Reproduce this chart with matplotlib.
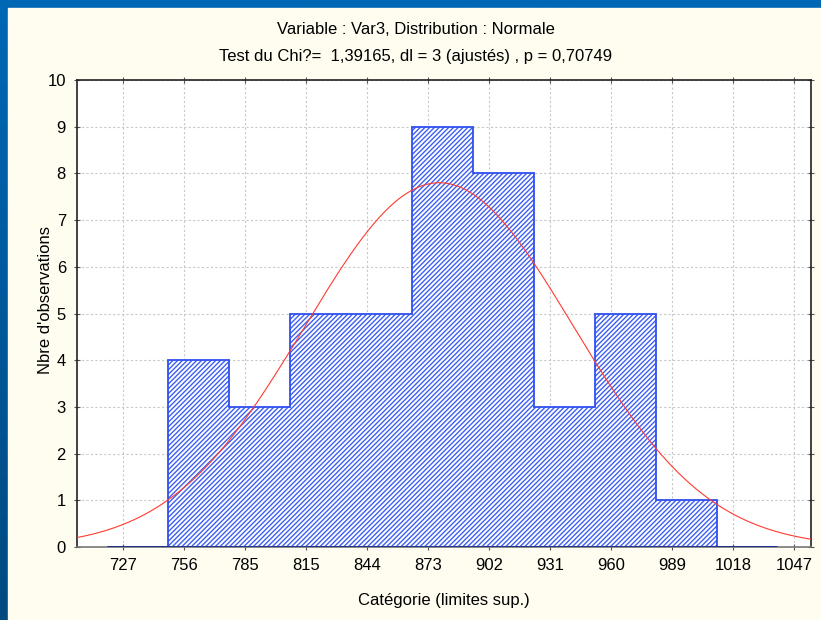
import numpy as np
import matplotlib
matplotlib.use("Agg")
import matplotlib.pyplot as plt
from matplotlib.patches import Rectangle
from matplotlib.colors import LinearSegmentedColormap

plt.rcParams.update({"font.family": ["Liberation Sans", "DejaVu Sans"], "font.size": 12,
                     "hatch.linewidth": 1.0})

# histogram data (bin edges in variable units, counts per bin)
bin_edges = [719.4, 748.5, 777.6, 806.7, 835.8, 864.9, 894.0, 923.1, 952.2, 981.3, 1010.4, 1039.5]
counts = [0, 4, 3, 5, 5, 9, 8, 3, 5, 1, 0]
tick_pos = [727.25, 756.35, 785.45, 814.55, 843.65, 872.75, 901.85, 930.95, 960.05, 989.15, 1018.25, 1047.35]
tick_labels = ["727", "756", "785", "815", "844", "873", "902", "931", "960", "989", "1018", "1047"]
# fitted normal
mu, sigma, n_obs, width = 878.0, 64.0, 43, 29.1

fig = plt.figure(figsize=(8.21, 6.2), dpi=100)

# blue frame + cream panel
bg = fig.add_axes([0, 0, 1, 1], zorder=-10)
grad = np.linspace(0, 1, 256).reshape(-1, 1)
cmap = LinearSegmentedColormap.from_list("frame", ["#0068b6", "#004a80"])
bg.imshow(grad, aspect="auto", cmap=cmap, extent=[0, 1, 0, 1])
bg.add_patch(Rectangle((8 / 821, 0), 1, 1 - 8 / 620, color="#fffcf0"))
bg.set_xlim(0, 1); bg.set_ylim(0, 1)
bg.axis("off")

ax = fig.add_axes([77 / 821, 1 - 547 / 620, (811 - 77) / 821, (547 - 80) / 620])
ax.set_facecolor("white")

lefts = bin_edges[:-1]
ax.bar(lefts, counts, width=np.diff(bin_edges), align="edge", color="white",
       edgecolor="#3d5ff2", linewidth=0, hatch="///////", zorder=2)
ax.stairs(counts, bin_edges, color="#2f4ff0", linewidth=1.3, zorder=3)
ax.hlines(0, bin_edges[0], bin_edges[-1], color="#1b2c8c", linewidth=2, zorder=4)

xs = np.linspace(705, 1056, 400)
ys = n_obs * width / (sigma * np.sqrt(2 * np.pi)) * np.exp(-0.5 * ((xs - mu) / sigma) ** 2)
ax.plot(xs, ys, color="#ff3b30", linewidth=0.8, zorder=5)

ax.set_xlim(705.05, 1055.5)
ax.set_ylim(0, 10)
ax.set_xticks(tick_pos)
ax.set_xticklabels(tick_labels)
ax.set_yticks(range(0, 11))
ax.grid(True, color="#c8c8c8", linestyle=(0, (2, 2)), linewidth=0.8, zorder=0)
ax.set_axisbelow(True)
ax.tick_params(direction="inout", length=4, color="#555555", top=True, right=True,
               labeltop=False, labelright=False, pad=6)
for s in ["left", "top", "right"]:
    ax.spines[s].set_color("#222222")
    ax.spines[s].set_linewidth(1.2)
ax.spines["bottom"].set_color("#777777")
ax.spines["bottom"].set_linewidth(1.2)

fig.text(416 / 821, 1 - 30 / 620, "Variable : Var3, Distribution : Normale", ha="center", va="center")
fig.text(416 / 821, 1 - 57 / 620, "Test du Chi?=  1,39165, dl = 3 (ajustés) , p = 0,70749",
         ha="center", va="center")
fig.text(444 / 821, 1 - 601 / 620, "Catégorie (limites sup.)", ha="center", va="center")
fig.text(45 / 821, 1 - 300 / 620, "Nbre d'observations", ha="center", va="center", rotation=90)

fig.savefig("out.png", dpi=100)
